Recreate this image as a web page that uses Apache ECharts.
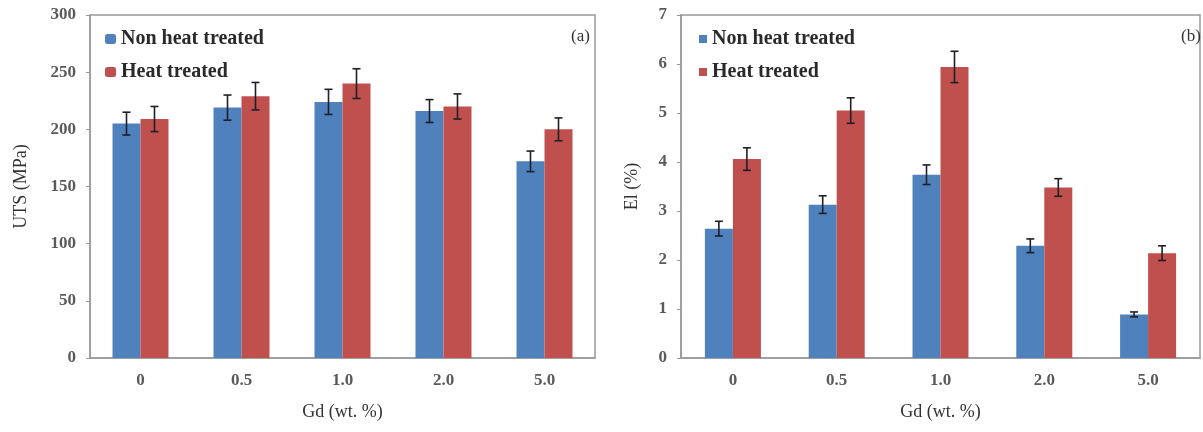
<!DOCTYPE html>
<html>
<head>
<meta charset="utf-8">
<script src="https://cdn.jsdelivr.net/npm/echarts@6/dist/echarts.min.js"></script>
<style>
  html, body { margin: 0; padding: 0; background: #fff; }
  #chart { width: 1203px; height: 432px; }
</style>
</head>
<body>
<div id="chart"></div>
<script>
// categories on the x axis (Gd content)
const categories = ['0', '0.5', '1.0', '2.0', '5.0'];

// (a) UTS, MPa
const utsNon = [205, 219, 224, 216, 172];
const utsNonErr = [10, 11, 11, 10, 9];
const utsHeat = [209, 229, 240, 220, 200];
const utsHeatErr = [11, 12, 13, 11, 10];

// (b) elongation, %
const elNon = [2.64, 3.13, 3.74, 2.29, 0.89];
const elNonErr = [0.15, 0.18, 0.2, 0.14, 0.05];
const elHeat = [4.06, 5.05, 5.94, 3.48, 2.14];
const elHeatErr = [0.23, 0.26, 0.32, 0.18, 0.15];

const BLUE = '#4f81bd';
const RED = '#c0504d';
const FONT = 'Liberation Serif';
const BAR_W = 28;

const chart = echarts.init(document.getElementById('chart'));

// error bars drawn as a custom series, shifted to sit on the grouped bar
function errSeries(name, vals, errs, gridIdx, side) {
  return {
    type: 'custom',
    name: name,
    xAxisIndex: gridIdx,
    yAxisIndex: gridIdx,
    z: 5,
    silent: true,
    data: vals.map((v, i) => [i, v - errs[i], v + errs[i]]),
    renderItem: (params, api) => {
      const lo = api.coord([api.value(0), api.value(1)]);
      const hi = api.coord([api.value(0), api.value(2)]);
      const x = lo[0] + side * BAR_W / 2;
      const cap = 4;
      const style = { stroke: '#1f1f2a', lineWidth: 1.6 };
      return {
        type: 'group',
        children: [
          { type: 'line', shape: { x1: x, y1: hi[1], x2: x, y2: lo[1] }, style: style },
          { type: 'line', shape: { x1: x - cap, y1: hi[1], x2: x + cap, y2: hi[1] }, style: style },
          { type: 'line', shape: { x1: x - cap, y1: lo[1], x2: x + cap, y2: lo[1] }, style: style }
        ]
      };
    }
  };
}

function barSeries(name, vals, color, gridIdx) {
  return {
    type: 'bar',
    name: name,
    xAxisIndex: gridIdx,
    yAxisIndex: gridIdx,
    data: vals,
    barWidth: BAR_W,
    barGap: '0%',
    itemStyle: { color: color },
    emphasis: { disabled: true }
  };
}

const tickLabel = { color: '#5a5a5a', fontFamily: FONT, fontSize: 17, fontWeight: 'bold' };
const nameStyle = { color: '#333', fontFamily: FONT, fontSize: 18 };

function xAx(gridIdx) {
  return {
    type: 'category',
    gridIndex: gridIdx,
    data: categories,
    axisLine: { lineStyle: { color: '#999', width: 1.5 } },
    axisTick: { show: false },
    axisLabel: Object.assign({ margin: 14 }, tickLabel),
    name: 'Gd (wt. %)',
    nameLocation: 'middle',
    nameGap: 45,
    nameTextStyle: nameStyle
  };
}

function yAx(gridIdx, max, interval, name, gap) {
  return {
    type: 'value',
    gridIndex: gridIdx,
    min: 0,
    max: max,
    interval: interval,
    axisLine: { show: true, lineStyle: { color: '#999', width: 1.5 } },
    axisTick: { show: true, length: 4, lineStyle: { color: '#999' } },
    splitLine: { show: false },
    axisLabel: Object.assign({ margin: 14 }, tickLabel),
    name: name,
    nameLocation: 'middle',
    nameGap: gap,
    nameTextStyle: nameStyle
  };
}

const legendText = { color: '#2a2a2a', fontFamily: FONT, fontSize: 20, fontWeight: 'bold' };

const option = {
  animation: false,
  backgroundColor: '#fff',
  title: [
    { text: '(a)', left: 566, top: 23, textStyle: { color: '#333', fontFamily: FONT, fontSize: 17, fontWeight: 'normal' } },
    { text: '(b)', left: 1176, top: 23, textStyle: { color: '#333', fontFamily: FONT, fontSize: 17, fontWeight: 'normal' } }
  ],
  legend: [
    {
      left: 100, top: 24, orient: 'vertical', itemGap: 13,
      itemWidth: 11, itemHeight: 10, icon: 'roundRect',
      textStyle: legendText,
      data: ['Non heat treated', 'Heat treated']
    },
    {
      left: 694, top: 24, orient: 'vertical', itemGap: 13,
      itemWidth: 8, itemHeight: 8, icon: 'rect',
      textStyle: legendText,
      data: ['Non heat treated', 'Heat treated']
    }
  ],
  grid: [
    { left: 90, right: 608, top: 15, bottom: 74, show: true, borderColor: '#999', borderWidth: 1.5 },
    { left: 681, right: 3, top: 15, bottom: 74, show: true, borderColor: '#999', borderWidth: 1.5 }
  ],
  xAxis: [xAx(0), xAx(1)],
  yAxis: [yAx(0, 300, 50, 'UTS (MPa)', 60), yAx(1, 7, 1, 'El (%)', 40)],
  series: [
    barSeries('Non heat treated', utsNon, BLUE, 0),
    barSeries('Heat treated', utsHeat, RED, 0),
    barSeries('Non heat treated', elNon, BLUE, 1),
    barSeries('Heat treated', elHeat, RED, 1),
    errSeries('Non heat treated', utsNon, utsNonErr, 0, -1),
    errSeries('Heat treated', utsHeat, utsHeatErr, 0, 1),
    errSeries('Non heat treated', elNon, elNonErr, 1, -1),
    errSeries('Heat treated', elHeat, elHeatErr, 1, 1)
  ]
};

chart.setOption(option);
</script>
</body>
</html>
